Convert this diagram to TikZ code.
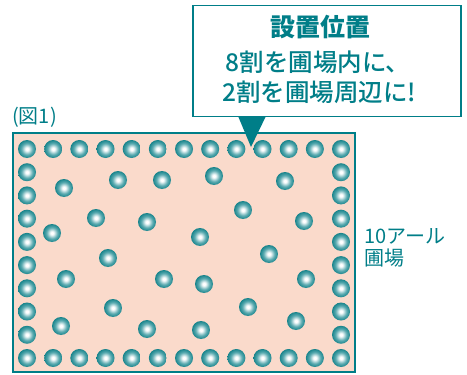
\documentclass[tikz,border=0pt]{standalone}
\usepackage{fontspec}
\newfontfamily\jp{Noto Sans CJK JP Medium}[BoldFont={Noto Sans CJK JP Black}]
\newfontfamily\jplight{Noto Sans CJK JP}
\usetikzlibrary{positioning}

\definecolor{deepteal}{RGB}{0,126,136}
\definecolor{peach}{RGB}{250,218,203}
\definecolor{balledge}{RGB}{0,118,126}
\definecolor{ballmid}{RGB}{86,168,174}
\pgfdeclareradialshading{sphere}{\pgfpoint{0bp}{0bp}}{color(0bp)=(white); color(4bp)=(white); color(16bp)=(ballmid); color(29bp)=(balledge); color(50bp)=(balledge)}

\begin{document}
\begin{tikzpicture}
[x=1pt, y=-1pt,
ball/.style   = {circle, inner sep=0pt, minimum size=18pt, shade, shading=sphere},
field/.style  = {rectangle, draw=deepteal, line width=1.2pt, fill=peach, minimum width=342pt, minimum height=239pt},
memo/.style   = {rectangle, draw=deepteal, line width=1.6pt, fill=white, minimum width=268pt, minimum height=111pt},
headline/.style = {text=deepteal, inner sep=0pt, font=\jp\bfseries\fontsize{25}{25}\selectfont},
message/.style  = {text=deepteal, inner sep=0pt, font=\jp\fontsize{24.5}{24}\selectfont},
note/.style   = {text=deepteal, inner sep=0pt, align=left, font=\jplight\fontsize{20}{22}\selectfont}
]
\useasboundingbox (0,0) rectangle (467,375);

% field
\node [field] (plot) at (184,252.5) {};

% balls round the edge
\foreach \i in {0,...,12} {
  \node [ball] (top\i) at (27+26.17*\i,149) {};
  \node [ball] (bot\i) at (27+26.17*\i,358) {};
}
\foreach \j in {1,...,8} {
  \node [ball] (lft\j) at (27,149+23.22*\j) {};
  \node [ball] (rgt\j) at (341,149+23.22*\j) {};
}

% balls inside
\foreach \x/\y [count=\n] in {64/188, 118/180, 162/180, 214/176, 285/181,
    96/218, 147/222, 243/210, 304/221, 52/233, 200/237, 108/258, 269/254,
    66/279, 164/279, 204/284, 306/279, 113/308, 248/307, 61/326, 147/329,
    201/330, 296/321}
  \node [ball] (seed\n) at (\x,\y) {};

% texts
\node [note, anchor=west] (fig) at (12,117) {(図1)};
\node [note, anchor=west] (size) at (364,248) {10アール\\圃場};

% callout
\node [memo] (memo) at (327,61) {};
\fill [deepteal] (238,116) -- (251,147) -- (266,116) -- cycle;
\node [headline] (head) at (320,27) {設置位置};
\node [message] (line1) at (318,62) {8割を圃場内に、};
\node [message] (line2) at (319,92) {2割を圃場周辺に!};

\end{tikzpicture}
\end{document}
